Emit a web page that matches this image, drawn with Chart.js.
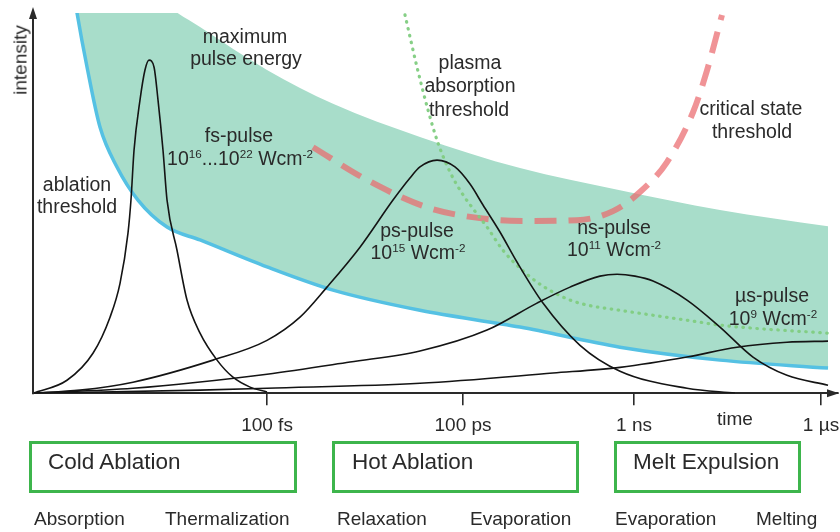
<!DOCTYPE html>
<html>
<head>
<meta charset="utf-8">
<script src="https://cdn.jsdelivr.net/npm/chart.js@4.4.0/dist/chart.umd.min.js"></script>
<style>
  html, body { margin: 0; padding: 0; background: #fff; }
  #wrap { position: relative; width: 840px; height: 532px; overflow: hidden;
          font-family: "Liberation Sans", Arial, sans-serif; color: #2a2a2a; }
  #chart { position: absolute; left: 0; top: 0; }
  .lbl { position: absolute; white-space: nowrap; }
  .lbl sup { font-size: 0.6em; line-height: 0; vertical-align: 0.6em; }
  .box { position: absolute; box-sizing: border-box; border: 3px solid #3db54c; top: 441px; height: 52px; }
</style>
</head>
<body>
<div id="wrap">
  <canvas id="chart" width="840" height="532"></canvas>
  <div class="box" style="left:29px;width:268px"></div>
  <div class="box" style="left:332px;width:247px"></div>
  <div class="box" style="left:614px;width:187px"></div>
</div>
<script>
// Schematic time axis (0..100) and intensity axis (0..100)
const tickPos = [29.07, 53.42, 74.66, 97.89];
const tickLabels = ['100 fs', '100 ps', '1 ns', '1 µs'];

// Processing window: ablation threshold (lower) and maximum pulse energy (upper)
const bandX      = [5.22, 5.47, 6.71, 8.32, 10.43, 13.04, 16.65, 20.75, 29.07, 37.27, 48.07, 60.50, 72.92, 85.34, 98.76];
const ablationY  = [103.4, 100.0, 85.8, 70.0, 59.5, 50.8, 43.7, 40.3, 33.2, 27.1, 21.8, 17.4, 12.1, 8.7, 6.6];
const maxEnergyY = [138.9, 137.6, 132.4, 125.8, 117.9, 110.0, 102.1, 96.3, 85.0, 76.1, 67.4, 59.2, 53.4, 48.2, 43.9];

// Critical state threshold
const criticalX = [34.78, 41.49, 48.94, 56.40, 62.11, 67.58, 72.05, 75.40, 78.76, 81.99, 83.73, 85.59];
const criticalY = [64.7, 56.1, 48.9, 45.8, 45.3, 45.5, 47.9, 52.9, 60.8, 73.9, 84.9, 99.5];

// Plasma absorption threshold
const plasmaX = [46.21, 47.70, 49.07, 50.31, 51.80, 53.29, 54.78, 56.40, 58.38, 60.50, 62.61, 64.60, 66.71, 68.82, 72.92, 77.02, 81.24, 85.34, 89.44, 98.76];
const plasmaY = [99.5, 85.8, 74.5, 65.8, 58.2, 52.6, 48.2, 43.7, 37.6, 32.9, 29.2, 26.6, 24.5, 23.2, 21.8, 20.5, 19.2, 17.9, 17.1, 15.8];

// Pulse shapes
const fsX = [0, 4.22, 7.45, 9.57, 10.81, 11.80, 12.17, 12.55, 13.29, 13.91, 14.41, 15.03, 15.53, 16.15, 16.65, 17.89, 19.13, 20.75, 22.86, 24.84, 26.96, 29.07];
const fsY = [0, 3.4, 10.5, 20.0, 28.9, 42.1, 50.8, 63.9, 77.1, 85.0, 87.6, 85.8, 77.1, 63.9, 50.8, 37.6, 24.5, 15.8, 8.7, 4.2, 1.6, 0.3];

const psX = [0, 5.84, 12.42, 22.36, 29.07, 33.17, 36.52, 40.62, 44.72, 46.83, 48.07, 50.19, 52.42, 54.29, 55.90, 58.01, 60.12, 63.35, 67.95, 72.92, 81.24, 87.20];
const psY = [0, 0.8, 2.9, 8.7, 13.9, 20.0, 27.9, 38.4, 50.8, 56.6, 59.5, 61.3, 59.5, 55.0, 49.5, 42.4, 34.5, 23.7, 12.6, 5.8, 1.3, 0];

const nsX = [0, 12.42, 29.07, 39.38, 48.07, 56.40, 62.61, 66.71, 70.43, 72.55, 74.78, 77.02, 81.24, 85.34, 89.44, 93.66, 98.76];
const nsY = [0, 1.3, 5.0, 8.2, 11.1, 16.6, 23.7, 27.9, 30.8, 31.3, 30.8, 29.5, 24.5, 17.4, 9.5, 4.7, 2.1];

const usX = [0, 20.75, 29.07, 48.07, 64.60, 72.92, 81.24, 87.45, 93.66, 98.76];
const usY = [0, 0.8, 1.3, 2.6, 5.3, 6.8, 9.5, 12.1, 13.4, 13.7];

const FONT = '"Liberation Sans", Arial, sans-serif';
const INK = '#2a2a2a';

const pts = (xs, ys) => xs.map((x, i) => ({ x, y: ys[i] }));
const line = (label, xs, ys, extra) => Object.assign({
  label, data: pts(xs, ys), pointRadius: 0, borderWidth: 1.6, borderColor: '#141414',
  fill: false, cubicInterpolationMode: 'monotone'
}, extra);

// Arrowheads on both axes and the vertical axis line
const axisArrows = {
  id: 'axisArrows',
  afterDatasetsDraw(chart) {
    const { ctx, chartArea: a } = chart;
    ctx.save();
    ctx.strokeStyle = INK; ctx.fillStyle = INK; ctx.lineWidth = 2;
    ctx.beginPath(); ctx.moveTo(a.left, a.bottom + 1); ctx.lineTo(a.left, 14); ctx.stroke();
    ctx.beginPath(); ctx.moveTo(a.left, 7); ctx.lineTo(a.left - 4, 19); ctx.lineTo(a.left + 4, 19); ctx.closePath(); ctx.fill();
    ctx.beginPath(); ctx.moveTo(a.right + 1, a.bottom); ctx.lineTo(a.right - 11, a.bottom - 4); ctx.lineTo(a.right - 11, a.bottom + 4); ctx.closePath(); ctx.fill();
    ctx.restore();
  }
};

new Chart(document.getElementById('chart'), {
  type: 'line',
  data: {
    datasets: [
      line('fs-pulse', fsX, fsY, { order: 1 }),
      line('ps-pulse', psX, psY, { order: 1 }),
      line('ns-pulse', nsX, nsY, { order: 1 }),
      line('µs-pulse', usX, usY, { order: 1 }),
      line('plasma absorption threshold', plasmaX, plasmaY, {
        borderColor: 'rgba(128,204,128,0.95)', borderWidth: 3.2, borderDash: [0.5, 6.5], borderCapStyle: 'round', order: 2 }),
      line('critical state threshold', criticalX, criticalY, {
        borderColor: 'rgba(234,105,110,0.72)', borderWidth: 6, borderDash: [22, 12], order: 2 }),
      line('ablation threshold', bandX, ablationY, { borderColor: '#55c1e3', borderWidth: 3.5, order: 3 }),
      line('maximum pulse energy', bandX, maxEnergyY, {
        borderWidth: 0, borderColor: 'rgba(0,0,0,0)', fill: { target: 6 },
        backgroundColor: 'rgb(168,221,202)', order: 4 })
    ]
  },
  options: {
    responsive: false,
    animation: false,
    events: [],
    layout: { padding: { left: 33, top: 13, right: 2, bottom: 86 } },
    plugins: { legend: { display: false }, tooltip: { enabled: false } },
    scales: {
      x: {
        type: 'linear', min: 0, max: 100,
        afterBuildTicks: s => { s.ticks = tickPos.map(v => ({ value: v })); },
        afterFit: s => { s.paddingLeft = 0; s.paddingRight = 0; },
        ticks: {
          autoSkip: false, maxRotation: 0, padding: 9, color: INK,
          font: { family: FONT, size: 19 },
          callback: (v, i) => tickLabels[i]
        },
        grid: { display: true, drawOnChartArea: false, drawTicks: true, tickLength: 12, color: INK, lineWidth: 1.6 },
        border: { display: true, color: INK, width: 2 }
      },
      y: { display: false, min: 0, max: 100 }
    }
  },
  plugins: [axisArrows]
});

// Text annotations: [html, x, baseline, size, align]
const notes = [
  ['maximum', 245, 44, 19.5, 'c'],
  ['pulse energy', 246, 66, 19.5, 'c'],
  ['fs-pulse', 239, 142.5, 19.5, 'c'],
  ['10<sup>16</sup>...10<sup>22</sup> Wcm<sup>-2</sup>', 240, 166, 19.5, 'c'],
  ['ablation', 77, 191.5, 19.5, 'c'],
  ['threshold', 77, 213.5, 19.5, 'c'],
  ['plasma', 470, 69.5, 19.5, 'c'],
  ['absorption', 470, 93, 19.5, 'c'],
  ['threshold', 469, 116.5, 19.5, 'c'],
  ['critical state', 751, 116, 19.5, 'c'],
  ['threshold', 752, 138.5, 19.5, 'c'],
  ['ps-pulse', 417, 237.5, 19.5, 'c'],
  ['10<sup>15</sup> Wcm<sup>-2</sup>', 418, 260, 19.5, 'c'],
  ['ns-pulse', 614, 235, 19.5, 'c'],
  ['10<sup>11</sup> Wcm<sup>-2</sup>', 614, 257, 19.5, 'c'],
  ['µs-pulse', 772, 303, 19.5, 'c'],
  ['10<sup>9</sup> Wcm<sup>-2</sup>', 773, 326, 19.5, 'c'],
  ['time', 735, 425, 19, 'c'],
  ['Cold Ablation', 48, 470.5, 22.5, 'l'],
  ['Hot Ablation', 352, 470.5, 22.5, 'l'],
  ['Melt Expulsion', 633, 470.5, 22.5, 'l'],
  ['Absorption', 34, 525, 19, 'l'],
  ['Thermalization', 165, 525, 19, 'l'],
  ['Relaxation', 337, 525, 19, 'l'],
  ['Evaporation', 470, 525, 19, 'l'],
  ['Evaporation', 615, 525, 19, 'l'],
  ['Melting', 756, 525, 19, 'l']
];
const wrap = document.getElementById('wrap');
for (const [html, x, base, size, align] of notes) {
  const d = document.createElement('div');
  d.className = 'lbl';
  d.innerHTML = html;
  d.style.fontSize = size + 'px';
  d.style.lineHeight = size + 'px';
  d.style.left = x + 'px';
  d.style.top = (base - size * 0.8465) + 'px';
  if (align === 'c') d.style.transform = 'translateX(-50%)';
  wrap.appendChild(d);
}
// Vertical axis title
const yt = document.createElement('div');
yt.className = 'lbl';
yt.textContent = 'intensity';
yt.style.fontSize = '19px';
yt.style.lineHeight = '19px';
yt.style.left = '20px';
yt.style.top = '60px';
yt.style.transform = 'translate(-50%, -50%) rotate(-90deg)';
wrap.appendChild(yt);
</script>
</body>
</html>
